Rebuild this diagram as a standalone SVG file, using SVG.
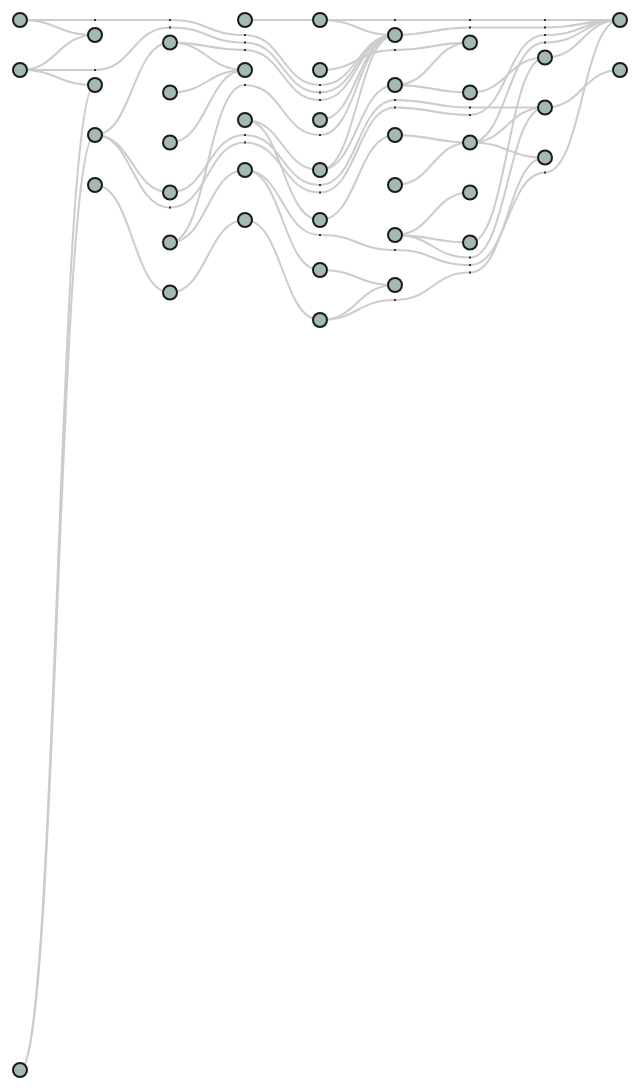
<svg xmlns="http://www.w3.org/2000/svg" width="640" height="1090" viewBox="0 0 640 1090">
<style>
.e{fill:none;stroke:#cccccc;stroke-width:2}
.n{fill:#a3b9b3;stroke:#1a1a1a;stroke-width:2}
.d{fill:#333333}
</style>
<rect width="640" height="1090" fill="#ffffff"/>
<g id="connectors">
<path class="e" d="M20,20 C57.5,20 57.5,35 95,35"/>
<path class="e" d="M20,20 C57.5,20 57.5,20 95,20 C132.5,20 132.5,20 170,20 C207.5,20 207.5,35 245,35 C282.5,35 282.5,85 320,85 C357.5,85 357.5,35 395,35"/>
<path class="e" d="M20,70 C57.5,70 57.5,35 95,35"/>
<path class="e" d="M20,70 C57.5,70 57.5,70 95,70 C132.5,70 132.5,27.5 170,27.5 C207.5,27.5 207.5,42.5 245,42.5 C282.5,42.5 282.5,92.5 320,92.5 C357.5,92.5 357.5,35 395,35"/>
<path class="e" d="M20,70 C57.5,70 57.5,85 95,85"/>
<path class="e" d="M20,1070 C57.5,1070 57.5,85 95,85"/>
<path class="e" d="M20,1070 C57.5,1070 57.5,135 95,135"/>
<path class="e" d="M95,135 C132.5,135 132.5,42.5 170,42.5"/>
<path class="e" d="M95,135 C132.5,135 132.5,192.5 170,192.5"/>
<path class="e" d="M95,135 C132.5,135 132.5,207.5 170,207.5 C207.5,207.5 207.5,142.5 245,142.5 C282.5,142.5 282.5,192.5 320,192.5 C357.5,192.5 357.5,107.5 395,107.5 C432.5,107.5 432.5,115 470,115 C507.5,115 507.5,35 545,35 C582.5,35 582.5,20 620,20"/>
<path class="e" d="M95,185 C132.5,185 132.5,292.5 170,292.5"/>
<path class="e" d="M170,42.5 C207.5,42.5 207.5,50 245,50 C282.5,50 282.5,100 320,100 C357.5,100 357.5,35 395,35"/>
<path class="e" d="M170,42.5 C207.5,42.5 207.5,70 245,70"/>
<path class="e" d="M170,92.5 C207.5,92.5 207.5,70 245,70"/>
<path class="e" d="M170,142.5 C207.5,142.5 207.5,70 245,70"/>
<path class="e" d="M170,242.5 C207.5,242.5 207.5,85 245,85 C282.5,85 282.5,135 320,135 C357.5,135 357.5,35 395,35"/>
<path class="e" d="M170,192.5 C207.5,192.5 207.5,135 245,135 C282.5,135 282.5,185 320,185 C357.5,185 357.5,100 395,100 C432.5,100 432.5,107.5 470,107.5 C507.5,107.5 507.5,107.5 545,107.5"/>
<path class="e" d="M170,242.5 C207.5,242.5 207.5,170 245,170"/>
<path class="e" d="M170,292.5 C207.5,292.5 207.5,220 245,220"/>
<path class="e" d="M245,20 L320,20"/>
<path class="e" d="M245,120 C282.5,120 282.5,170 320,170"/>
<path class="e" d="M245,120 C282.5,120 282.5,220 320,220"/>
<path class="e" d="M245,170 C282.5,170 282.5,270 320,270"/>
<path class="e" d="M245,220 C282.5,220 282.5,320 320,320"/>
<path class="e" d="M320,20 L620,20"/>
<path class="e" d="M320,20 C357.5,20 357.5,35 395,35"/>
<path class="e" d="M320,70 C357.5,70 357.5,50 395,50 C432.5,50 432.5,42.5 470,42.5"/>
<path class="e" d="M320,120 C357.5,120 357.5,35 395,35"/>
<path class="e" d="M320,170 C357.5,170 357.5,35 395,35"/>
<path class="e" d="M320,170 C357.5,170 357.5,85 395,85"/>
<path class="e" d="M245,170 C282.5,170 282.5,235 320,235 C357.5,235 357.5,250 395,250 C432.5,250 432.5,265 470,265 C507.5,265 507.5,172.5 545,172.5 C582.5,172.5 582.5,20 620,20"/>
<path class="e" d="M320,220 C357.5,220 357.5,135 395,135"/>
<path class="e" d="M320,270 C357.5,270 357.5,285 395,285"/>
<path class="e" d="M320,320 C357.5,320 357.5,285 395,285"/>
<path class="e" d="M320,320 C357.5,320 357.5,300 395,300 C432.5,300 432.5,272.5 470,272.5 C507.5,272.5 507.5,157.5 545,157.5"/>
<path class="e" d="M395,35 C432.5,35 432.5,27.5 470,27.5 L545,27.5 C582.5,27.5 582.5,20 620,20"/>
<path class="e" d="M395,85 C432.5,85 432.5,42.5 470,42.5"/>
<path class="e" d="M395,85 C432.5,85 432.5,92.5 470,92.5"/>
<path class="e" d="M395,135 C432.5,135 432.5,142.5 470,142.5"/>
<path class="e" d="M395,185 C432.5,185 432.5,142.5 470,142.5"/>
<path class="e" d="M395,235 C432.5,235 432.5,192.5 470,192.5"/>
<path class="e" d="M395,235 C432.5,235 432.5,242.5 470,242.5"/>
<path class="e" d="M395,235 C432.5,235 432.5,257.5 470,257.5 C507.5,257.5 507.5,107.5 545,107.5"/>
<path class="e" d="M470,92.5 C507.5,92.5 507.5,57.5 545,57.5"/>
<path class="e" d="M470,142.5 C507.5,142.5 507.5,107.5 545,107.5"/>
<path class="e" d="M470,142.5 C507.5,142.5 507.5,157.5 545,157.5"/>
<path class="e" d="M470,142.5 C507.5,142.5 507.5,42.5 545,42.5 C582.5,42.5 582.5,20 620,20"/>
<path class="e" d="M470,242.5 C507.5,242.5 507.5,57.5 545,57.5"/>
<path class="e" d="M545,57.5 C582.5,57.5 582.5,20 620,20"/>
<path class="e" d="M545,107.5 C582.5,107.5 582.5,70 620,70"/>
</g>
<g id="dummies">
<rect class="d" x="94" y="19" width="2" height="2"/><rect class="d" x="94" y="69" width="2" height="2"/>
<rect class="d" x="169" y="19" width="2" height="2"/><rect class="d" x="169" y="26.5" width="2" height="2"/><rect class="d" x="169" y="206.5" width="2" height="2"/>
<rect class="d" x="244" y="34" width="2" height="2"/><rect class="d" x="244" y="41.5" width="2" height="2"/><rect class="d" x="244" y="49" width="2" height="2"/><rect class="d" x="244" y="84" width="2" height="2"/><rect class="d" x="244" y="134" width="2" height="2"/><rect class="d" x="244" y="141.5" width="2" height="2"/>
<rect class="d" x="319" y="84" width="2" height="2"/><rect class="d" x="319" y="91.5" width="2" height="2"/><rect class="d" x="319" y="99" width="2" height="2"/><rect class="d" x="319" y="134" width="2" height="2"/><rect class="d" x="319" y="184" width="2" height="2"/><rect class="d" x="319" y="191.5" width="2" height="2"/><rect class="d" x="319" y="234" width="2" height="2"/>
<rect class="d" x="394" y="19" width="2" height="2"/><rect class="d" x="394" y="49" width="2" height="2"/><rect class="d" x="394" y="99" width="2" height="2"/><rect class="d" x="394" y="106.5" width="2" height="2"/><rect class="d" x="394" y="249" width="2" height="2"/><rect class="d" x="394" y="299" width="2" height="2"/>
<rect class="d" x="469" y="19" width="2" height="2"/><rect class="d" x="469" y="26.5" width="2" height="2"/><rect class="d" x="469" y="106.5" width="2" height="2"/><rect class="d" x="469" y="114" width="2" height="2"/><rect class="d" x="469" y="256.5" width="2" height="2"/><rect class="d" x="469" y="264" width="2" height="2"/><rect class="d" x="469" y="271.5" width="2" height="2"/>
<rect class="d" x="544" y="19" width="2" height="2"/><rect class="d" x="544" y="26.5" width="2" height="2"/><rect class="d" x="544" y="34" width="2" height="2"/><rect class="d" x="544" y="41.5" width="2" height="2"/><rect class="d" x="544" y="171.5" width="2" height="2"/>
</g>
<g id="n-l0"><circle id="A0" class="n" cx="20" cy="20" r="7"/><circle id="A1" class="n" cx="20" cy="70" r="7"/><circle id="A2" class="n" cx="20" cy="1070" r="7"/></g>
<g id="n-l1"><circle id="B0" class="n" cx="95" cy="35" r="7"/><circle id="B1" class="n" cx="95" cy="85" r="7"/><circle id="B2" class="n" cx="95" cy="135" r="7"/><circle id="B3" class="n" cx="95" cy="185" r="7"/></g>
<g id="n-l2"><circle id="C0" class="n" cx="170" cy="42.5" r="7"/><circle id="C1" class="n" cx="170" cy="92.5" r="7"/><circle id="C2" class="n" cx="170" cy="142.5" r="7"/><circle id="C3" class="n" cx="170" cy="192.5" r="7"/><circle id="C4" class="n" cx="170" cy="242.5" r="7"/><circle id="C5" class="n" cx="170" cy="292.5" r="7"/></g>
<g id="n-l3"><circle id="D0" class="n" cx="245" cy="20" r="7"/><circle id="D1" class="n" cx="245" cy="70" r="7"/><circle id="D2" class="n" cx="245" cy="120" r="7"/><circle id="D3" class="n" cx="245" cy="170" r="7"/><circle id="D4" class="n" cx="245" cy="220" r="7"/></g>
<g id="n-l4"><circle id="E0" class="n" cx="320" cy="20" r="7"/><circle id="E1" class="n" cx="320" cy="70" r="7"/><circle id="E2" class="n" cx="320" cy="120" r="7"/><circle id="E3" class="n" cx="320" cy="170" r="7"/><circle id="E4" class="n" cx="320" cy="220" r="7"/><circle id="E5" class="n" cx="320" cy="270" r="7"/><circle id="E6" class="n" cx="320" cy="320" r="7"/></g>
<g id="n-l5"><circle id="F0" class="n" cx="395" cy="35" r="7"/><circle id="F1" class="n" cx="395" cy="85" r="7"/><circle id="F2" class="n" cx="395" cy="135" r="7"/><circle id="F3" class="n" cx="395" cy="185" r="7"/><circle id="F4" class="n" cx="395" cy="235" r="7"/><circle id="F5" class="n" cx="395" cy="285" r="7"/></g>
<g id="n-l6"><circle id="G0" class="n" cx="470" cy="42.5" r="7"/><circle id="G1" class="n" cx="470" cy="92.5" r="7"/><circle id="G2" class="n" cx="470" cy="142.5" r="7"/><circle id="G3" class="n" cx="470" cy="192.5" r="7"/><circle id="G4" class="n" cx="470" cy="242.5" r="7"/></g>
<g id="n-l7"><circle id="H0" class="n" cx="545" cy="57.5" r="7"/><circle id="H1" class="n" cx="545" cy="107.5" r="7"/><circle id="H2" class="n" cx="545" cy="157.5" r="7"/></g>
<g id="n-l8"><circle id="I0" class="n" cx="620" cy="20" r="7"/><circle id="I1" class="n" cx="620" cy="70" r="7"/></g>
</svg>
